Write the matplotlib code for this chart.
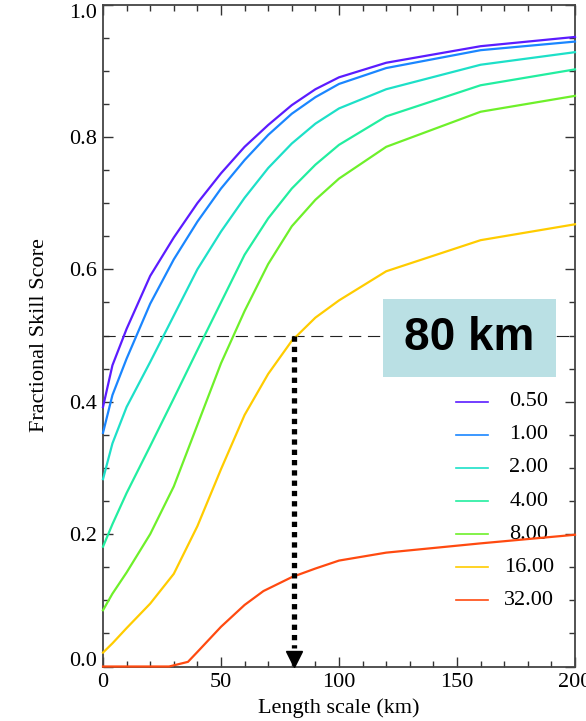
"""
Fractional Skill Score vs length scale, one curve per rain threshold.
The 0.5 level is reached at ~80 km for the 16 threshold.
"""

import matplotlib
matplotlib.use("Agg")  # no display
import matplotlib.pyplot as plt
from matplotlib.patches import Rectangle
from matplotlib.ticker import MultipleLocator

plt.rcParams["font.family"] = ["Liberation Serif", "DejaVu Serif"]

# ── data ──────────────────────────────────────────────────────────────────────
length_km = [0, 4, 10, 20, 30, 40, 50, 60, 70, 80, 90, 100, 120, 160, 200]

fss_0p50 = [0.392, 0.455, 0.510, 0.590, 0.648, 0.700, 0.745, 0.785, 0.818, 0.848, 0.872, 0.890, 0.912, 0.937, 0.951]
fss_1p00 = [0.353, 0.410, 0.465, 0.548, 0.615, 0.672, 0.722, 0.765, 0.803, 0.835, 0.860, 0.880, 0.904, 0.931, 0.944]
fss_2p00 = [0.283, 0.337, 0.392, 0.460, 0.530, 0.600, 0.657, 0.708, 0.753, 0.790, 0.820, 0.843, 0.872, 0.909, 0.928]
fss_4p00 = [0.181, 0.215, 0.262, 0.333, 0.405, 0.478, 0.550, 0.622, 0.677, 0.722, 0.758, 0.788, 0.831, 0.878, 0.902]
fss_8p00 = [0.085, 0.110, 0.142, 0.200, 0.272, 0.365, 0.458, 0.537, 0.608, 0.665, 0.705, 0.737, 0.785, 0.838, 0.862]
fss_16p00 = [0.021, 0.035, 0.058, 0.095, 0.140, 0.212, 0.298, 0.380, 0.442, 0.492, 0.527, 0.553, 0.597, 0.644, 0.668]

# 32.00 stays at zero for the small scales, so it has its own x nodes
length_km_32 = [0, 28, 36, 40, 50, 60, 68, 80, 90, 100, 120, 160, 200]
fss_32p00 = [0.0, 0.0, 0.007, 0.022, 0.060, 0.093, 0.114, 0.135, 0.148, 0.160, 0.172, 0.186, 0.199]

thresholds = ["0.50", "1.00", "2.00", "4.00", "8.00", "16.00", "32.00"]
colors = ["#5b1cff", "#1a86ff", "#1de0c8", "#22eea0", "#6ef02a", "#ffcc00", "#ff4a10"]

skill_level = 0.5
useful_scale_km = 81
box_text = "80 km"

# ── figure ───────────────────────────────────────────────────────────────────
W, H = 586, 721
fig = plt.figure(figsize=(W / 100, H / 100), dpi=100)
ax = fig.add_axes([103 / W, 54.5 / H, 472 / W, 662 / H])

series = [
    (length_km, fss_0p50),
    (length_km, fss_1p00),
    (length_km, fss_2p00),
    (length_km, fss_4p00),
    (length_km, fss_8p00),
    (length_km, fss_16p00),
    (length_km_32, fss_32p00),
]
for (xs, ys), c in zip(series, colors):
    ax.plot(xs, ys, color=c, lw=1.6, clip_on=False, zorder=3)

# 0.5 reference line
ax.plot([0, 200], [skill_level, skill_level], color="#222222", lw=0.8,
        ls=(0, (11, 6)), zorder=2)

# dotted arrow down to the x-axis
ax.plot([useful_scale_km, useful_scale_km], [skill_level, 0.028], color="black",
        lw=3.8, ls=(0, (1, 0.95)), dash_capstyle="butt", zorder=5)
ax.plot(useful_scale_km, 0.0115, marker="v", ms=11, color="black",
        clip_on=False, zorder=5)

# highlighted label box
ax.add_patch(Rectangle((118.6, 0.437), 73.3, 0.118, facecolor="#bae0e4",
                       edgecolor="none", zorder=4))
ax.text(155.3, 0.496, box_text, ha="center", va="center", fontsize=33,
        fontweight="bold", family="Liberation Sans", zorder=6)

# legend drawn by hand (labels are centred, as in the original)
for i, (lab, c) in enumerate(zip(thresholds, colors)):
    yy = 0.40 - 0.05 * i
    ax.plot([149.6, 163.1], [yy, yy], color=c, lw=1.2, zorder=3)
    ax.text(180.5, yy, lab, ha="center", va="center", fontsize=16, zorder=2)

# ── axes styling ─────────────────────────────────────────────────────────────
ax.set_xlim(0, 200)
ax.set_ylim(0, 1.0)
ax.set_xticks([0, 50, 100, 150, 200])
ax.set_yticks([0.0, 0.2, 0.4, 0.6, 0.8, 1.0])
ax.set_yticklabels(["0.0", "0.2", "0.4", "0.6", "0.8", "1.0"])
ax.xaxis.set_minor_locator(MultipleLocator(10))
ax.yaxis.set_minor_locator(MultipleLocator(0.05))
ax.tick_params(which="both", direction="in", top=True, right=True,
               color="#333333", width=1.0, labelsize=16)
ax.tick_params(which="major", length=7.5, pad=4.5)
ax.tick_params(which="minor", length=4.5)
for sp in ax.spines.values():
    sp.set_color("#444444")
    sp.set_linewidth(1.3)

ylabs = ax.get_yticklabels()
ylabs[0].set_va("baseline")
ylabs[-1].set_va("top")

ax.set_xlabel("Length scale (km)", fontsize=16)
ax.set_ylabel("Fractional Skill Score", fontsize=16)
ax.xaxis.set_label_coords(0.5, -0.048)
ax.yaxis.set_label_coords(-0.115, 0.5)

fig.savefig("out.png", dpi=100)
plt.close(fig)
